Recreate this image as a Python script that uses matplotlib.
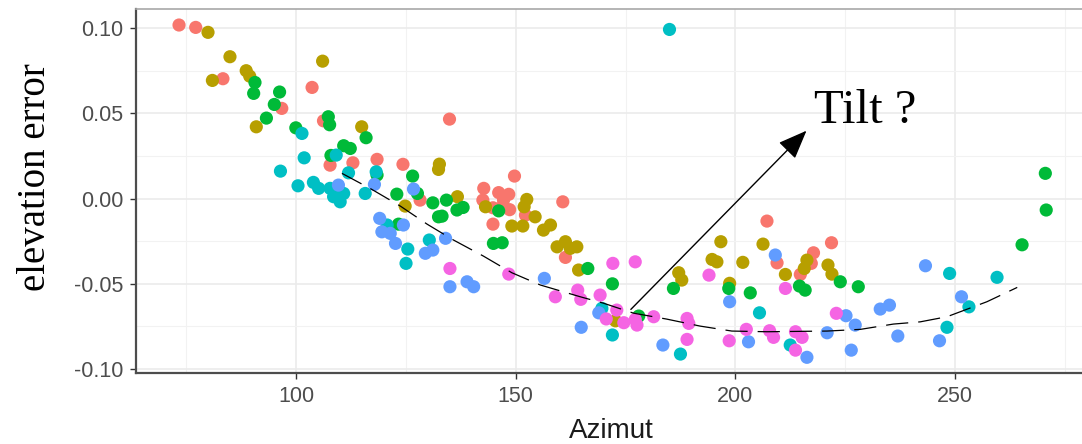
"""
Elevation error vs azimuth scatter (ggplot theme_bw look) with a dashed trend
and a "Tilt ?" annotation.
"""
import matplotlib
matplotlib.use("Agg")
import matplotlib.pyplot as plt
from matplotlib.ticker import MultipleLocator

# ggplot default hue palette for 6 groups
group_colors = ["#F8766D", "#B79F00", "#00BA38", "#00BFC4", "#619CFF", "#F564E3"]

# points: (azimut, elevation error) per group
red_az = [73.3, 77.1, 83.3, 96.7, 103.6, 106.2, 107.7, 112.9, 118.4, 124.3, 128.2,
          134.9, 149.7, 142.7, 146.1, 148.4, 142.5, 147.2, 144.8, 146.9, 148.6, 144.8,
          152.2, 160.7, 161.3, 207.2, 209.5, 217.8, 217.3, 214.8, 221.9]
red_err = [0.1018, 0.1004, 0.0703, 0.0529, 0.0652, 0.0456, 0.0196, 0.0210, 0.0230, 0.0201, -0.0009,
           0.0466, 0.0132, 0.0060, 0.0035, 0.0025, -0.0009, -0.0009, -0.0054, -0.0048, -0.0065, -0.0150,
           -0.0097, -0.0019, -0.0345, -0.0132, -0.0377, -0.0318, -0.0380, -0.0445, -0.0259]

olive_az = [79.9, 84.9, 88.6, 89.4, 80.9, 90.9, 106.0, 114.9, 132.6, 132.4, 124.8, 136.7,
            143.1, 152.5, 151.9, 154.4, 156.3, 157.9, 149.1, 151.6, 159.4, 161.3, 162.4,
            163.9, 164.3, 172.7, 187.1, 187.8, 196.7, 194.7, 195.8, 198.7, 201.7, 206.3,
            211.4, 216.3, 215.7, 221.1, 222.0]
olive_err = [0.0975, 0.0832, 0.0750, 0.0718, 0.0693, 0.0421, 0.0806, 0.0421, 0.0202, 0.0171, -0.0044, 0.0011,
             -0.0048, -0.0005, -0.0048, -0.0107, -0.0185, -0.0155, -0.0161, -0.0161, -0.0283, -0.0253, -0.0292,
             -0.0283, -0.0419, -0.0717, -0.0435, -0.0478, -0.0253, -0.0357, -0.0371, -0.0497, -0.0374, -0.0267,
             -0.0445, -0.0361, -0.0410, -0.0390, -0.0443]

green_az = [90.6, 90.3, 96.2, 95.0, 93.2, 107.3, 107.6, 115.9, 99.9, 107.9, 110.8, 112.3,
            118.4, 126.5, 122.9, 127.6, 131.1, 134.2, 132.4, 123.3, 136.6, 138.0, 133.2,
            146.1, 144.9, 146.9, 166.4, 172.0, 178.0, 185.9, 198.5, 203.4, 214.6, 215.9,
            223.9, 228.0, 265.3, 270.8, 270.6]
green_err = [0.0681, 0.0617, 0.0625, 0.0552, 0.0472, 0.0480, 0.0433, 0.0357, 0.0415, 0.0253, 0.0310, 0.0294,
             0.0138, 0.0132, 0.0026, 0.0030, -0.0025, -0.0009, -0.0107, -0.0150, -0.0067, -0.0052, -0.0103,
             -0.0072, -0.0263, -0.0259, -0.0410, -0.0500, -0.0689, -0.0527, -0.0527, -0.0553, -0.0513, -0.0537,
             -0.0488, -0.0517, -0.0271, -0.0067, 0.0148]

cyan_az = [101.3, 101.8, 109.1, 96.4, 111.9, 118.2, 100.4, 103.9, 105.1, 107.7, 109.6, 110.8,
           108.5, 110.0, 115.7, 120.7, 125.4, 130.3, 125.0, 185.0, 169.6, 172.0, 187.5,
           205.5, 212.5, 248.8, 248.2, 253.2, 259.6]
cyan_err = [0.0382, 0.0239, 0.0255, 0.0161, 0.0151, 0.0157, 0.0075, 0.0095, 0.0060, 0.0060, 0.0040, 0.0030,
            0.0011, -0.0019, 0.0030, -0.0155, -0.0296, -0.0243, -0.0380, 0.0992, -0.0644, -0.0800, -0.0912,
            -0.0670, -0.0859, -0.0439, -0.0755, -0.0635, -0.0462]

blue_az = [117.8, 109.6, 126.7, 119.0, 124.4, 119.5, 121.4, 122.6, 129.4, 131.1, 134.0,
           135.0, 138.9, 140.4, 156.5, 168.9, 164.9, 183.5, 198.7, 203.0, 209.1, 225.2,
           227.3, 226.4, 216.3, 220.9, 233.0, 235.1, 237.0, 243.3, 246.5, 251.5]
blue_err = [0.0083, 0.0079, 0.0056, -0.0116, -0.0155, -0.0195, -0.0204, -0.0263, -0.0321, -0.0302, -0.0233,
            -0.0517, -0.0488, -0.0517, -0.0468, -0.0670, -0.0755, -0.0859, -0.0605, -0.0840, -0.0331, -0.0687,
            -0.0742, -0.0889, -0.0931, -0.0787, -0.0648, -0.0625, -0.0806, -0.0394, -0.0834, -0.0576]

magenta_az = [135.0, 148.4, 159.0, 164.1, 164.8, 169.2, 170.6, 173.0, 174.6, 177.6, 177.2,
              172.1, 177.2, 181.4, 189.0, 189.4, 189.0, 194.0, 198.6, 202.5, 207.8, 208.7,
              211.4, 213.7, 215.2, 213.7, 223.0]
magenta_err = [-0.0410, -0.0443, -0.0576, -0.0537, -0.0591, -0.0566, -0.0706, -0.0654, -0.0728, -0.0742, -0.0709,
               -0.0380, -0.0371, -0.0693, -0.0703, -0.0732, -0.0826, -0.0449, -0.0834, -0.0767, -0.0775, -0.0814,
               -0.0527, -0.0781, -0.0814, -0.0889, -0.0673]

# dashed trend curve
trend_az = [110.4, 117.2, 123.7, 129.8, 135.8, 142.6, 149.1, 155.6, 164.7, 169.9, 176.8,
            184.4, 192.0, 199.2, 207.2, 220.9, 228.5, 236.0, 242.1, 248.2, 257.3, 264.2]
trend_err = [0.0148, 0.0054, -0.0044, -0.0150, -0.0243, -0.0337, -0.0435, -0.0507, -0.0576, -0.0613, -0.0672,
             -0.0707, -0.0748, -0.0777, -0.0781, -0.0777, -0.0767, -0.0736, -0.0723, -0.0693, -0.0605, -0.0521]

x_ticks = [100, 150, 200, 250]
y_ticks = [-0.10, -0.05, 0.00, 0.05, 0.10]

plt.rcParams['font.family'] = ['Liberation Sans', 'DejaVu Sans']
plt.rcParams['lines.scale_dashes'] = False

W, H = 1082, 444
fig = plt.figure(figsize=(W / 100, H / 100), dpi=100)
ax = fig.add_axes([136 / W, (H - 373) / H, (1091 - 136) / W, (373 - 9.5) / H])

groups = [(red_az, red_err), (olive_az, olive_err), (green_az, green_err),
          (cyan_az, cyan_err), (blue_az, blue_err), (magenta_az, magenta_err)]
for (xs, ys), col in zip(groups, group_colors):
    ax.scatter(xs, ys, s=90, color=col, edgecolors='none', zorder=3)

ax.plot(trend_az, trend_err, color='black', lw=0.9, linestyle=(0, (16, 7.2)), zorder=4)

ax.annotate('', xy=(216.2, 0.0398), xytext=(176.2, -0.065),
            arrowprops=dict(arrowstyle='-|>,head_length=0.9,head_width=0.36',
                            mutation_scale=20, color='black', lw=1.0,
                            shrinkA=0, shrinkB=0), zorder=5)
ax.text(217.8, 0.0443, 'Tilt ?', fontsize=35, family='Liberation Serif',
        ha='left', va='baseline', zorder=5)

ax.set_xlim(63.5, 281)
ax.set_ylim(-0.1023, 0.1109)
ax.set_xticks(x_ticks)
ax.set_yticks(y_ticks)
ax.set_yticklabels([f'{v:.2f}' for v in y_ticks])
ax.xaxis.set_minor_locator(MultipleLocator(25))
ax.yaxis.set_minor_locator(MultipleLocator(0.025))

ax.grid(which='major', color='#EBEBEB', lw=1.2, zorder=0)
ax.grid(which='minor', color='#F2F2F2', lw=0.8, zorder=0)
ax.set_axisbelow(True)

ax.tick_params(which='major', length=4, width=1.0, color='#333333',
               labelsize=15.5, labelcolor='#4D4D4D', pad=5)
ax.tick_params(which='minor', length=0)

for side in ['left', 'bottom']:
    ax.spines[side].set_color('#4D4D4D')
    ax.spines[side].set_linewidth(1.6)
ax.spines['top'].set_color('#A8A8A8')
ax.spines['top'].set_linewidth(1.2)
ax.spines['right'].set_visible(False)

fig.text(36 / W, 1 - 177 / H, 'elevation error', rotation=90, fontsize=28,
         family='Liberation Serif', ha='center', va='center')
fig.text(611 / W, 1 - 431 / H, 'Azimut', fontsize=20, color='#1A1A1A',
         ha='center', va='center')

fig.savefig('out.png', dpi=100)
